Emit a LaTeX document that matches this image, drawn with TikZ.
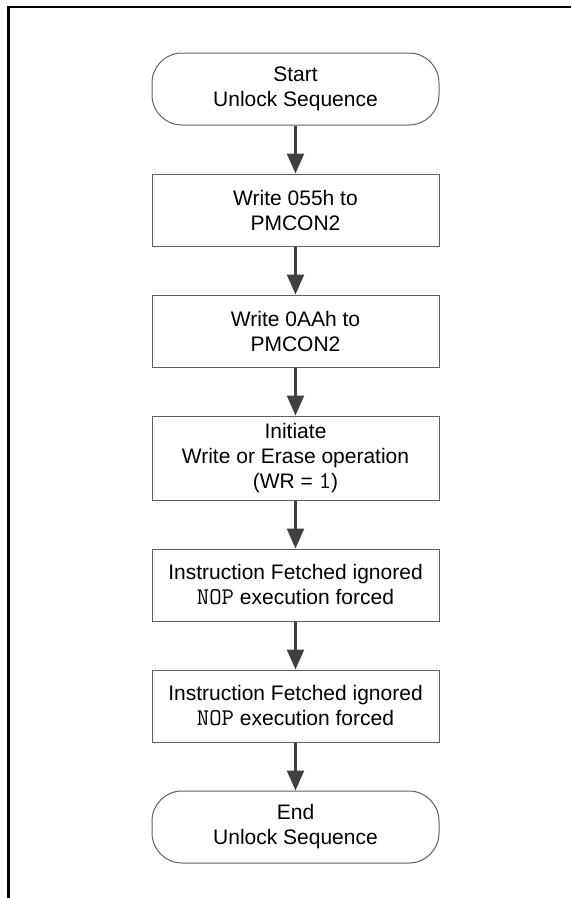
\documentclass[tikz,border=0pt]{standalone}
\usepackage{fontspec}
\setmainfont{Liberation Sans}
\usepackage{xcolor}
\usepackage{tikz}
\usetikzlibrary{arrows.meta}
\usetikzlibrary{positioning}

\definecolor{boxline}{HTML}{606060}
\definecolor{arrowline}{HTML}{404040}
\newcommand{\regname}[1]{{\fontsize{24}{25}\ttfamily #1}}

\begin{document}
\begin{tikzpicture}[
                > = {Triangle[length=20pt,width=17pt]}, % arrow head style
                node distance = 48pt, % distance between shapes
                font = \fontsize{21}{25}\selectfont
        ]

        \tikzstyle{every node}=[
            align = center,
            text = black
        ]
        \tikzstyle{box}=[
            draw = boxline,
            line width = 1pt,
            fill = white,
            minimum width = 287pt,
            minimum height = 72pt
        ]
        \tikzstyle{terminal}=[
            box,
            rounded corners = 30pt
        ]
        \tikzstyle{flow}=[
            draw = arrowline,
            fill = arrowline,
            line width = 2.5pt
        ]

        \useasboundingbox (0,0) rectangle (571pt,-898pt);

        % frame
        \draw[line width=2.5pt] (8.5pt,-898pt) -- (8.5pt,-7pt) -- (571pt,-7pt);

        \node[terminal] (Start) at (295.5pt,-89pt) {Start\\Unlock Sequence};
        \node[box] (W55) [below=of Start] {Write 055h to\\PMCON2};
        \node[box] (WAA) [below=of W55] {Write 0AAh to\\PMCON2};
        \node[box, minimum height=84pt] (Init) [below=of WAA]
            {Initiate\\Write or Erase operation\\(WR = \regname{1})};
        \node[box] (Nop1) [below=of Init] {Instruction Fetched ignored\\\regname{NOP} execution forced};
        \node[box] (Nop2) [below=of Nop1] {Instruction Fetched ignored\\\regname{NOP} execution forced};
        \node[terminal] (End) [below=of Nop2] {End\\Unlock Sequence};

        \draw[flow, ->] (Start) -- (W55);
        \draw[flow, ->] (W55) -- (WAA);
        \draw[flow, ->] (WAA) -- (Init);
        \draw[flow, ->] (Init) -- (Nop1);
        \draw[flow, ->] (Nop1) -- (Nop2);
        \draw[flow, ->] (Nop2) -- (End);

\end{tikzpicture}
\end{document}
